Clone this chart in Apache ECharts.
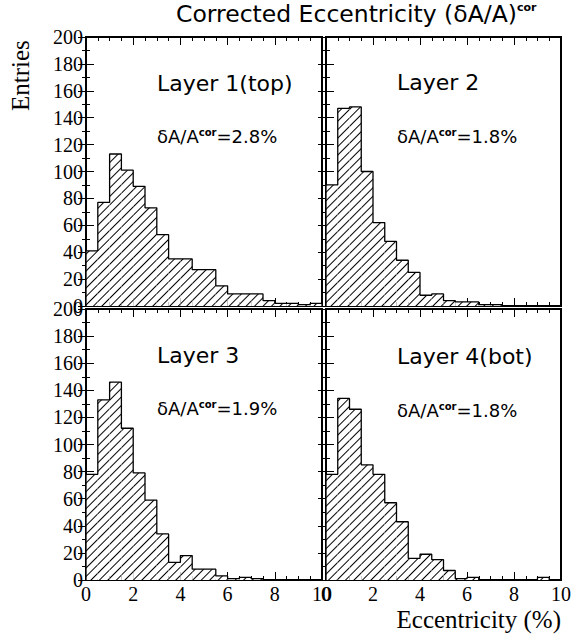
<!DOCTYPE html>
<html><head><meta charset="utf-8">
<script src="https://cdn.jsdelivr.net/npm/echarts@6/dist/echarts.min.js"></script>
<style>html,body{margin:0;padding:0;background:#fff}#c{width:583px;height:637px}</style>
</head><body><div id="c"></div>
<script>
// bin lower edges (Eccentricity %), bin width 0.5
const binLo = [0,0.5,1,1.5,2,2.5,3,3.5,4,4.5,5,5.5,6,6.5,7,7.5,8,8.5,9,9.5];
const binW = 0.5;
const layer1 = [41,77,113,101,89,73,53,35,35,27,27,15,9,9,9,4,2,2,1,2];
const layer2 = [90,147,148,100,62,48,34,25,8,9,4,3,3,1,1,0,0,0,0,0];
const layer3 = [78,133,146,112,79,59,34,13,18,8,8,3,1,2,1,0,0,0,0,0];
const layer4 = [78,134,126,85,78,57,43,16,19,15,7,1,2,0,0,0,0,0,2,0];
const layerNames = ['Layer 1(top)','Layer 2','Layer 3','Layer 4(bot)'];
const resolutions = ['2.8%','1.8%','1.9%','1.8%'];

const layers = [layer1,layer2,layer3,layer4];
const grids = [
  {left:86, top:37, width:236, height:269},
  {left:326, top:37, width:235, height:269},
  {left:86, top:309, width:236, height:271},
  {left:326, top:309, width:235, height:271}
];
const serif = 'Liberation Serif';
const sans = 'DejaVu Sans';
const hatch = {symbol:'rect', symbolSize:1, color:'#000', backgroundColor:'#fff',
  dashArrayX:[1,0], dashArrayY:[1,5], rotation:-Math.PI/4};

const xAxes = [], yAxes = [], series = [];
grids.forEach((g,i)=>{
  const bottomRow = i>=2, leftCol = (i%2)===0;
  xAxes.push({gridIndex:i, type:'category', data:binLo.map(String), show:false, boundaryGap:true});
  const vx = {gridIndex:i, type:'value', min:0, max:10, interval:2,
    axisLine:{show:true, lineStyle:{color:'#000', width:2}},
    axisTick:{show:true, inside:true, length:8, lineStyle:{color:'#000', width:1}},
    minorTick:{show:true, splitNumber:4, length:4, lineStyle:{color:'#000', width:1}},
    splitLine:{show:false},
    axisLabel:{show:false}};
  xAxes.push(Object.assign({}, vx, {position:'bottom',
    axisLabel:{show:bottomRow, color:'#000', fontFamily:serif, fontSize:20, margin:4,
      showMinLabel:true, showMaxLabel:true}}));
  xAxes.push(Object.assign({}, vx, {position:'top'}));
  const vy = {gridIndex:i, type:'value', min:0, max:200, interval:20,
    axisLine:{show:true, lineStyle:{color:'#000', width:2}},
    axisTick:{show:true, inside:true, length:8, lineStyle:{color:'#000', width:1}},
    minorTick:{show:true, splitNumber:2, length:4, lineStyle:{color:'#000', width:1}},
    splitLine:{show:false}, axisLabel:{show:false}};
  yAxes.push(Object.assign({}, vy, {position:'left',
    axisLabel:{show:leftCol, color:'#000', fontFamily:serif, fontSize:20, margin:3,
      showMinLabel:true, showMaxLabel:true}}));
  yAxes.push(Object.assign({}, vy, {position:'right'}));

  const vals = layers[i];
  series.push({type:'bar', xAxisIndex:3*i, yAxisIndex:2*i, data:vals,
    barCategoryGap:'0%', barGap:'0%', silent:true,
    itemStyle:{color:'#fff', decal:hatch}});
  const pts = [[binLo[0],0]];
  vals.forEach((v,k)=>{ pts.push([binLo[k],v]); pts.push([binLo[k]+binW,v]); });
  pts.push([binLo[binLo.length-1]+binW,0]);
  series.push({type:'line', xAxisIndex:3*i+1, yAxisIndex:2*i, data:pts,
    symbol:'none', silent:true, lineStyle:{color:'#000', width:1.3}, z:5});
});

const textPos = [[157,85,157,138],[397,84,397,138],[157,357,157,410],[397,358,397,412]];
const graphics = [];
textPos.forEach((p,i)=>{
  graphics.push({type:'text', left:p[0], top:p[1]-13, z:10, style:{text:layerNames[i],
    fontFamily:sans, fontSize:22, fill:'#000'}});
  graphics.push({type:'text', left:p[2], top:p[3]-11, z:10, style:{
    text:'{m|δA/A}{s|cor}{m|=' + resolutions[i] + '}',
    rich:{m:{fontFamily:sans, fontSize:18, fill:'#000', color:'#000'},
          s:{fontFamily:sans, fontSize:10, fontWeight:'bold', verticalAlign:'top', fill:'#000', color:'#000'}}}});
});
graphics.push({type:'text', left:176, top:2, z:10, style:{
  text:'{m|Corrected Eccentricity (δA/A)}{s|cor}',
  rich:{m:{fontFamily:sans, fontSize:23.5, fill:'#000', color:'#000'},
        s:{fontFamily:sans, fontSize:11, fontWeight:'bold', verticalAlign:'top', fill:'#000', color:'#000'}}}});
graphics.push({type:'text', x:8, y:111, rotation:Math.PI/2, z:10,
  style:{text:'Entries', fontFamily:serif, fontSize:25, fill:'#000', align:'left', verticalAlign:'top'}});
graphics.push({type:'text', right:22, top:607, z:10, style:{text:'Eccentricity (%)',
  fontFamily:serif, fontSize:25, fill:'#000'}});

const chart = echarts.init(document.getElementById('c'), null, {renderer:'svg'});
chart.setOption({
  animation:false,
  backgroundColor:'#fff',
  grid:grids.map(g=>Object.assign({show:true, borderColor:'#000', borderWidth:2, backgroundColor:'transparent'}, g)),
  xAxis:xAxes, yAxis:yAxes, series:series, graphic:graphics
});
</script></body></html>
